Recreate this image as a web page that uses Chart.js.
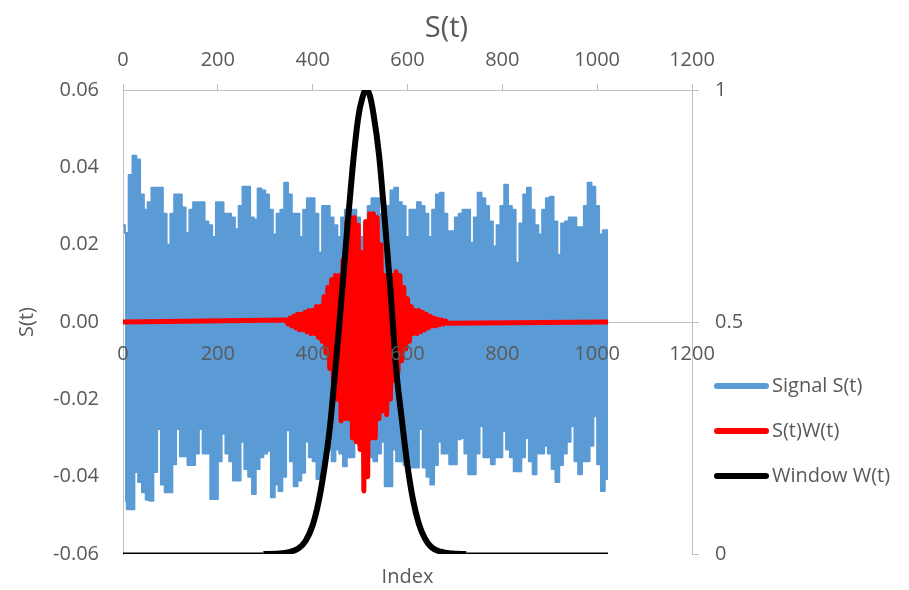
<!DOCTYPE html>
<html>
<head>
<meta charset="utf-8">
<script src="https://cdn.jsdelivr.net/npm/chart.js@4.4.1/dist/chart.umd.min.js"></script>
<style>
  html, body { margin: 0; padding: 0; background: #ffffff; }
  #wrap { width: 909px; height: 590px; }
</style>
</head>
<body>
<div id="wrap"><canvas id="chart" width="909" height="590"></canvas></div>
<script>
// axis ticks
const indexTicks = [0, 200, 400, 600, 800, 1000, 1200];
const signalTicks = [-0.06, -0.04, -0.02, 0, 0.02, 0.04, 0.06];
const windowTicks = [0, 0.5, 1];

// Signal S(t): upper peaks at index 0,8,16,... and lower peaks at 4,12,20,...
const sigHigh = [
  0.025, 0.023, 0.038, 0.043, 0.042, 0.033, 0.029, 0.031,
  0.0347, 0.0347, 0.0347, 0.028, 0.020, 0.028, 0.033, 0.033,
  0.0296, 0.023, 0.029, 0.031, 0.031, 0.031, 0.026, 0.025,
  0.022, 0.031, 0.031, 0.028, 0.028, 0.027, 0.024, 0.030,
  0.035, 0.035, 0.027, 0.0265, 0.0345, 0.034, 0.033, 0.029,
  0.0226, 0.028, 0.029, 0.036, 0.033, 0.028, 0.028, 0.022,
  0.029, 0.032, 0.032, 0.028, 0.018, 0.030, 0.030, 0.027,
  0.025, 0.022, 0.027, 0.029, 0.029, 0.029, 0.027, 0.022,
  0.026, 0.030, 0.032, 0.032, 0.028, 0.028, 0.030, 0.034,
  0.0347, 0.031, 0.030, 0.022, 0.029, 0.029, 0.031, 0.030,
  0.028, 0.022, 0.029, 0.033, 0.0334, 0.028, 0.0235, 0.0235,
  0.027, 0.028, 0.029, 0.029, 0.0205, 0.027, 0.0334, 0.032,
  0.030, 0.026, 0.0195, 0.025, 0.030, 0.0355, 0.030, 0.029,
  0.0153, 0.0255, 0.033, 0.0347, 0.029, 0.025, 0.0226, 0.029,
  0.032, 0.0324, 0.026, 0.0174, 0.0255, 0.026, 0.027, 0.027,
  0.0245, 0.0245, 0.030, 0.036, 0.035, 0.030, 0.0226, 0.0237
];
const sigLow = [
  -0.0462, -0.0484, -0.0484, -0.0388, -0.0414, -0.044, -0.046, -0.0462,
  -0.0388, -0.0277, -0.042, -0.044, -0.044, -0.0368, -0.0277, -0.0347,
  -0.0347, -0.037, -0.037, -0.034, -0.0277, -0.034, -0.034, -0.0458,
  -0.0458, -0.036, -0.0289, -0.034, -0.036, -0.041, -0.041, -0.031,
  -0.038, -0.040, -0.0445, -0.038, -0.035, -0.034, -0.0333, -0.0453,
  -0.042, -0.0437, -0.040, -0.028, -0.036, -0.0425, -0.041, -0.039,
  -0.0309, -0.035, -0.036, -0.0406, -0.038, -0.035, -0.033, -0.036,
  -0.033, -0.034, -0.0373, -0.035, -0.035, -0.0245, -0.032, -0.031,
  -0.033, -0.035, -0.036, -0.034, -0.031, -0.0425, -0.0425, -0.033,
  -0.036, -0.036, -0.037, -0.0365, -0.0376, -0.0376, -0.0277, -0.0376,
  -0.040, -0.042, -0.037, -0.031, -0.034, -0.034, -0.0368, -0.0368,
  -0.0303, -0.030, -0.034, -0.0394, -0.0394, -0.034, -0.0269, -0.035,
  -0.035, -0.0368, -0.035, -0.035, -0.0282, -0.033, -0.035, -0.0386,
  -0.0386, -0.035, -0.030, -0.036, -0.0394, -0.034, -0.034, -0.032,
  -0.034, -0.038, -0.0414, -0.037, -0.034, -0.031, -0.0269, -0.036,
  -0.0394, -0.036, -0.036, -0.032, -0.0244, -0.0368, -0.0437, -0.0406
];
// last sample (index 1023)
const sigEnd = [1023, 0.0237, -0.0406];

// S(t)W(t): upper peaks at 344,352,...,680 and lower peaks at 348,356,...,684 (zero elsewhere)
const swHigh = [
  0.0005, 0.001, 0.0015, 0.002, 0.002, 0.0025, 0.003, 0.003, 0.004, 0.004,
  0.0065, 0.009, 0.011, 0.012, 0.012, 0.016, 0.026, 0.027, 0.027, 0.025,
  0.018, 0.026, 0.028, 0.028, 0.027, 0.020, 0.012, 0.012, 0.012, 0.013,
  0.012, 0.009, 0.006, 0.004, 0.003, 0.003, 0.0025, 0.002, 0.0015, 0.001,
  0.0007, 0.0005, 0.0003
];
const swLow = [
  -0.0005, -0.001, -0.0015, -0.002, -0.002, -0.0025, -0.003, -0.003, -0.004, -0.005,
  -0.008, -0.012, -0.016, -0.020, -0.0256, -0.025, -0.025, -0.030, -0.031, -0.033,
  -0.0437, -0.040, -0.030, -0.030, -0.025, -0.023, -0.024, -0.020, -0.015, -0.013,
  -0.010, -0.007, -0.005, -0.003, -0.003, -0.0025, -0.002, -0.0015, -0.001, -0.001,
  -0.0007, -0.0005, -0.0003
];

// Window W(t)
const winIdx = [0, 296, 330, 350, 370, 385, 400, 412, 424, 436, 448, 460, 472, 484, 496, 504,
  512, 520, 528, 540, 552, 564, 576, 588, 600, 612, 624, 636, 650, 670, 695, 724, 1023];
const winVal = [0, 0, 0.001, 0.004, 0.012, 0.028, 0.062, 0.11, 0.18, 0.27, 0.40, 0.54, 0.69, 0.83, 0.94, 0.98,
  1.0, 0.99, 0.95, 0.86, 0.72, 0.57, 0.40, 0.29, 0.19, 0.115, 0.065, 0.035, 0.015, 0.005, 0.001, 0, 0];

// the signal oscillates too fast to resolve: draw it as the band between its peaks
const sigTopPts = sigHigh.map((v, k) => ({ x: k * 8, y: v }));
const sigBotPts = sigLow.map((v, k) => ({ x: k * 8 + 4, y: v }));
sigTopPts.push({ x: sigEnd[0], y: sigEnd[1] });
sigBotPts.push({ x: sigEnd[0], y: sigEnd[2] });

const swPts = [{ x: 0, y: 0 }];
swHigh.forEach((v, k) => {
  swPts.push({ x: 344 + k * 8, y: v });
  swPts.push({ x: 348 + k * 8, y: swLow[k] });
});
swPts.push({ x: 1023, y: 0 });

const winPts = winIdx.map((x, i) => ({ x: x, y: winVal[i] }));

const GREY = '#595959';
const LINE = '#bfbfbf';
const BLUE = '#5b9bd5';
Chart.defaults.font.family = "'Open Sans', sans-serif";
Chart.defaults.color = GREY;

const setTicks = list => scale => { scale.ticks = list.map(v => ({ value: v })); };

const legendLines = {
  id: 'legendLines',
  afterDraw(chart) {
    const ctx = chart.ctx;
    const a = chart.chartArea;
    ctx.save();
    ctx.font = "20px 'Open Sans', sans-serif";
    ctx.textBaseline = 'middle';
    ctx.fillStyle = GREY;
    chart.data.datasets.filter(ds => ds.label).forEach((ds, i) => {
      const y = a.top + 296 + i * 45;
      ctx.strokeStyle = ds.borderColor;
      ctx.lineWidth = 6;
      ctx.lineCap = 'round';
      ctx.beginPath();
      ctx.moveTo(a.right + 25, y);
      ctx.lineTo(a.right + 74, y);
      ctx.stroke();
      ctx.fillText(ds.label, a.right + 80, y);
    });
    ctx.restore();
  }
};

new Chart(document.getElementById('chart'), {
  type: 'line',
  data: {
    datasets: [
      {
        label: 'Signal S(t)',
        data: sigTopPts,
        borderColor: BLUE,
        backgroundColor: BLUE,
        borderWidth: 2,
        borderJoinStyle: 'round',
        stepped: 'middle',
        pointRadius: 0,
        fill: '+1',
        yAxisID: 'y',
        order: 4
      },
      {
        label: '',
        data: sigBotPts,
        borderColor: BLUE,
        borderWidth: 2,
        borderJoinStyle: 'round',
        stepped: 'middle',
        pointRadius: 0,
        fill: false,
        yAxisID: 'y',
        order: 3
      },
      {
        label: 'S(t)W(t)',
        data: swPts,
        borderColor: '#ff0000',
        borderWidth: 5,
        borderJoinStyle: 'round',
        pointRadius: 0,
        fill: false,
        yAxisID: 'y',
        order: 2
      },
      {
        label: 'Window W(t)',
        data: winPts,
        borderColor: '#000000',
        borderWidth: 6,
        pointRadius: 0,
        fill: false,
        cubicInterpolationMode: 'monotone',
        yAxisID: 'y2',
        order: 1,
        segment: {
          borderWidth: c => (c.p1.parsed.x <= 296 || c.p0.parsed.x >= 724) ? 3 : 6
        }
      }
    ]
  },
  options: {
    responsive: false,
    animation: false,
    layout: { padding: { left: 0, right: 16, top: 0, bottom: 0 } },
    plugins: {
      legend: { display: false },
      tooltip: { enabled: false },
      title: {
        display: true,
        text: 'S(t)',
        color: GREY,
        font: { size: 29, weight: 'normal' },
        padding: { top: 11.6, bottom: 0 }
      }
    },
    scales: {
      x: {
        type: 'linear',
        position: { y: 0 },
        min: 0, max: 1200,
        afterBuildTicks: setTicks(indexTicks),
        grid: { display: false, drawTicks: false },
        border: { display: false },
        ticks: { z: 1, padding: 20, font: { size: 20 }, callback: v => String(v), maxRotation: 0 }
      },
      x2: {
        type: 'linear',
        position: 'top',
        min: 0, max: 1200,
        afterBuildTicks: setTicks(indexTicks),
        afterFit: s => { s.height = 43.6; },
        grid: { drawOnChartArea: false, drawTicks: true, tickLength: 6, color: LINE },
        border: { display: true, color: LINE },
        ticks: { padding: 12, font: { size: 20 }, callback: v => String(v), maxRotation: 0 }
      },
      xb: {
        type: 'linear',
        position: 'bottom',
        afterFit: s => { s.height = 35; },
        grid: { display: false },
        border: { display: false },
        ticks: { display: false },
        title: { display: true, text: 'Index', color: GREY, font: { size: 20 }, padding: { top: 0, bottom: 0 } }
      },
      y: {
        type: 'linear',
        position: 'left',
        min: -0.06, max: 0.06,
        afterBuildTicks: setTicks(signalTicks),
        afterFit: s => { s.width = 123; },
        grid: {
          drawTicks: false,
          color: c => (c.tick && Math.abs(c.tick.value) < 1e-9) ? LINE : 'rgba(0,0,0,0)'
        },
        border: { display: true, color: LINE },
        ticks: {
          padding: 24,
          font: { size: 20 },
          callback: v => (Math.abs(v) < 1e-9 ? 0 : v).toFixed(2)
        },
        title: { display: true, text: 'S(t)', color: GREY, font: { size: 20 }, padding: { top: 15.5, bottom: 0 } }
      },
      y2: {
        type: 'linear',
        position: 'right',
        min: 0, max: 1,
        afterBuildTicks: setTicks(windowTicks),
        afterFit: s => { s.width = 201; },
        grid: { drawOnChartArea: false, drawTicks: true, tickLength: 7, color: LINE },
        border: { display: true, color: LINE },
        ticks: { padding: 16, font: { size: 20 }, callback: v => String(v) }
      }
    }
  },
  plugins: [legendLines]
});
</script>
</body>
</html>
